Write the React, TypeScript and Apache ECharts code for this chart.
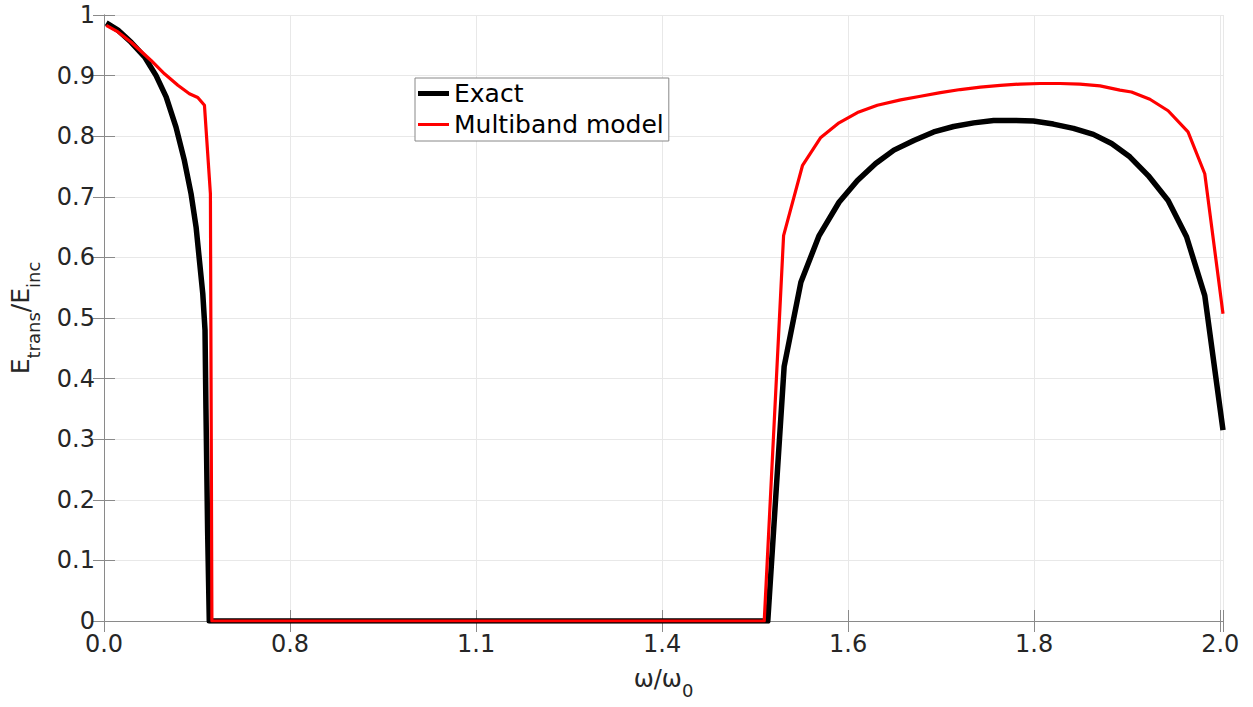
import React, { useEffect, useRef } from 'react';
import * as echarts from 'echarts';

// x positions are in tick units (tick k carries label xTickLabels[k])
const xTickLabels = ['0.0', '0.8', '1.1', '1.4', '1.6', '1.8', '2.0'];
const xAxisMax = 6.015;

const exactX = [0.012, 0.075, 0.146, 0.218, 0.28, 0.334, 0.387, 0.432, 0.468, 0.495, 0.513, 0.531, 0.543, 0.548, 0.557, 0.566,
  3.568, 3.656, 3.746, 3.844, 3.951, 4.05, 4.148, 4.246, 4.353, 4.46, 4.567, 4.675, 4.782, 4.889, 4.996, 5.103, 5.211, 5.318,
  5.416, 5.514, 5.613, 5.72, 5.819, 5.917, 6.015];
const exactY = [0.987, 0.975, 0.955, 0.931, 0.9, 0.865, 0.815, 0.76, 0.705, 0.65, 0.595, 0.54, 0.48, 0.351, 0.149, 0,
  0, 0.42, 0.559, 0.636, 0.691, 0.727, 0.755, 0.777, 0.793, 0.807, 0.816, 0.822, 0.826, 0.826, 0.825, 0.82, 0.813, 0.803,
  0.788, 0.766, 0.735, 0.694, 0.634, 0.537, 0.315];

const modelX = [0.012, 0.075, 0.146, 0.253, 0.325, 0.397, 0.459, 0.504, 0.54, 0.572, 0.58,
  3.549, 3.653, 3.755, 3.853, 3.951, 4.05, 4.157, 4.282, 4.389, 4.496, 4.603, 4.711, 4.818, 4.925, 5.032, 5.139, 5.246,
  5.354, 5.461, 5.523, 5.622, 5.72, 5.827, 5.917, 6.015];
const modelY = [0.983, 0.972, 0.955, 0.925, 0.903, 0.884, 0.87, 0.864, 0.851, 0.705, 0,
  0, 0.636, 0.752, 0.798, 0.822, 0.839, 0.851, 0.86, 0.866, 0.872, 0.877, 0.881, 0.884, 0.886, 0.887, 0.887, 0.886,
  0.883, 0.876, 0.873, 0.861, 0.842, 0.807, 0.738, 0.507];

const seriesNames = ['Exact', 'Multiband model'];

const FONT = 'DejaVu Sans';
const AXIS_COLOR = '#8a8a8a';
const TEXT_COLOR = '#262626';
const GRID_COLOR = '#e8e8e8';

const zip = (xs: number[], ys: number[]) => xs.map((x, i) => [x, ys[i]]);

const xLabelFmt = (v: number) => {
  const k = Math.round(v);
  return Math.abs(v - k) < 1e-6 && k < xTickLabels.length ? xTickLabels[k] : '';
};
const yLabelFmt = (v: number) => {
  if (Math.abs(v) < 1e-9) return '0';
  if (Math.abs(v - 1) < 1e-9) return '1';
  return v.toFixed(1);
};

export default function App() {
  const ref = useRef<HTMLDivElement>(null);
  useEffect(() => {
    document.body.style.margin = '0';
    const chart = echarts.init(ref.current!, null, { renderer: 'svg' });
    const tickStyle = { inside: true, length: 11, lineStyle: { color: AXIS_COLOR, width: 1 } };
    const lineStyle = { show: true, lineStyle: { color: AXIS_COLOR, width: 1 } };
    chart.setOption({
      animation: false,
      backgroundColor: '#ffffff',
      textStyle: { fontFamily: FONT },
      grid: { left: 101, right: 30, top: 15, bottom: 86, show: false },
      legend: {
        data: [
          { name: seriesNames[0], icon: 'path://M0,0H31V5H0Z' },
          { name: seriesNames[1], icon: 'path://M0,0H31V3H0Z' },
        ],
        orient: 'vertical',
        left: 415,
        top: 78,
        itemWidth: 31,
        itemHeight: 14,
        itemGap: 6,
        padding: [3, 5, 4, 3],
        borderColor: '#888888',
        borderWidth: 1,
        backgroundColor: '#ffffff',
        textStyle: { fontSize: 25, color: '#000000', fontFamily: FONT },
      },
      xAxis: [
        {
          type: 'value', position: 'bottom', min: 0, max: xAxisMax, interval: 1,
          axisLine: lineStyle, axisTick: tickStyle,
          axisLabel: { formatter: xLabelFmt, fontSize: 24, lineHeight: 24, color: TEXT_COLOR, margin: 11, fontFamily: FONT },
          splitLine: { show: true, lineStyle: { color: GRID_COLOR, width: 1 } },
          name: '{n|ω/ω}{s|0}',
          nameLocation: 'middle',
          nameGap: 50,
          nameTextStyle: {
            color: TEXT_COLOR,
            rich: {
              n: { fontSize: 24, color: TEXT_COLOR, fontFamily: FONT, verticalAlign: 'bottom', lineHeight: 28, padding: [0, 0, 8, 0] },
              s: { fontSize: 18, color: TEXT_COLOR, fontFamily: FONT, verticalAlign: 'bottom', lineHeight: 22 },
            },
          },
        },
        {
          type: 'value', position: 'top', min: 0, max: xAxisMax, interval: 1,
          axisLine: lineStyle, axisTick: tickStyle, axisLabel: { show: false }, splitLine: { show: false },
        },
      ],
      yAxis: [
        {
          type: 'value', position: 'left', min: 0, max: 1, interval: 0.1,
          axisLine: lineStyle, axisTick: tickStyle,
          axisLabel: { formatter: yLabelFmt, fontSize: 24, lineHeight: 20, color: TEXT_COLOR, margin: 9, fontFamily: FONT },
          splitLine: { show: true, lineStyle: { color: GRID_COLOR, width: 1 } },
          name: '{n|E}{s|trans}{n|/E}{s|inc}',
          nameLocation: 'middle',
          nameRotate: 90,
          nameGap: 62,
          nameTextStyle: {
            color: TEXT_COLOR,
            rich: {
              n: { fontSize: 25, color: TEXT_COLOR, fontFamily: FONT, verticalAlign: 'bottom', lineHeight: 28, padding: [0, 0, 9, 0] },
              s: { fontSize: 18, color: TEXT_COLOR, fontFamily: FONT, verticalAlign: 'bottom', lineHeight: 22 },
            },
          },
        },
        {
          type: 'value', position: 'right', min: 0, max: 1, interval: 0.1,
          axisLine: lineStyle, axisTick: tickStyle, axisLabel: { show: false }, splitLine: { show: false },
        },
      ],
      series: [
        {
          name: seriesNames[0], type: 'line', xAxisIndex: 0, yAxisIndex: 0,
          data: zip(exactX, exactY), symbol: 'none', showSymbol: false,
          lineStyle: { color: '#000000', width: 5.5, join: 'round' }, itemStyle: { color: '#000000' }, z: 2,
        },
        {
          name: seriesNames[1], type: 'line', xAxisIndex: 0, yAxisIndex: 0,
          data: zip(modelX, modelY), symbol: 'none', showSymbol: false,
          lineStyle: { color: '#ff0000', width: 3.2, join: 'round' }, itemStyle: { color: '#ff0000' }, z: 3,
        },
      ],
    });
    return () => chart.dispose();
  }, []);
  return <div ref={ref} style={{ width: 1253, height: 707 }} />;
}
